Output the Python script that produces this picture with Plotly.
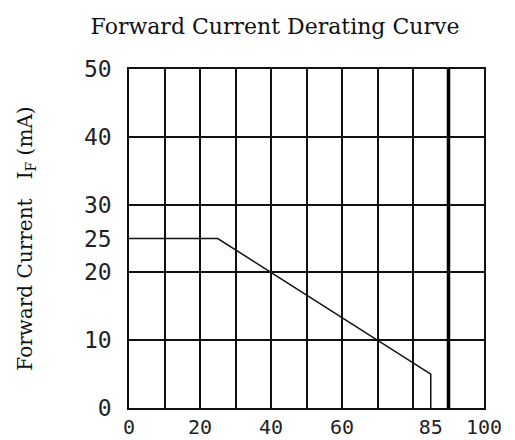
import plotly.graph_objects as go

# Derating curve data (ambient temperature vs max forward current)
temp = [0, 25, 85, 85]
current = [25, 25, 5, 0]

x_ticks = [0, 20, 40, 60, 85, 100]
y_ticks = [0, 10, 20, 25, 30, 40, 50]
x_grid = [10, 20, 30, 40, 50, 60, 70, 80]
y_grid = [10, 20, 30, 40]
limit_temp = [90]

title_text = "Forward Current Derating Curve"
y_title = "Forward Current\u00a0\u00a0\u00a0I<sub>F</sub> (mA)"

fig = go.Figure()
fig.add_trace(go.Scatter(x=temp, y=current, mode="lines",
                         line=dict(color="#111111", width=1.5),
                         showlegend=False, hoverinfo="skip"))
for t in limit_temp:
    fig.add_vline(x=t, line=dict(color="#000000", width=3.5), layer="above")

W, H = 507, 432
fig.update_layout(
    width=W, height=H,
    margin=dict(l=121, r=31, t=61, b=32, autoexpand=False),
    paper_bgcolor="white", plot_bgcolor="white",
    title=dict(text=title_text, x=267 / W, xanchor="center", xref="container",
               y=1 - 18 / H, yanchor="middle", yref="container",
               font=dict(family="DejaVu Serif", size=22, color="#111111")),
    xaxis=dict(range=[0, 100], tickmode="array", tickvals=x_ticks,
               ticktext=[str(v) for v in x_ticks], automargin=False,
               showgrid=False, zeroline=False,
               showline=True, mirror=True, linecolor="#111111", linewidth=1.5,
               ticks="", ticklabelstandoff=0,
               tickfont=dict(family="DejaVu Sans Mono", size=20, color="#222222"),
               minor=dict(tickmode="array", tickvals=x_grid, showgrid=True,
                          gridcolor="#111111", gridwidth=1.5)),
    yaxis=dict(range=[0, 50], tickmode="array", tickvals=y_ticks,
               ticktext=[str(v) for v in y_ticks], automargin=False,
               showgrid=False, zeroline=False,
               showline=True, mirror=True, linecolor="#111111", linewidth=1.5,
               ticks="outside", ticklen=11, tickcolor="rgba(0,0,0,0)",
               tickfont=dict(family="DejaVu Sans Mono", size=23, color="#222222"),
               title=dict(text=y_title, standoff=46,
                          font=dict(family="DejaVu Serif", size=20, color="#111111")),
               minor=dict(tickmode="array", tickvals=y_grid, showgrid=True,
                          gridcolor="#111111", gridwidth=1.5)),
)

fig.write_html("out.html")
